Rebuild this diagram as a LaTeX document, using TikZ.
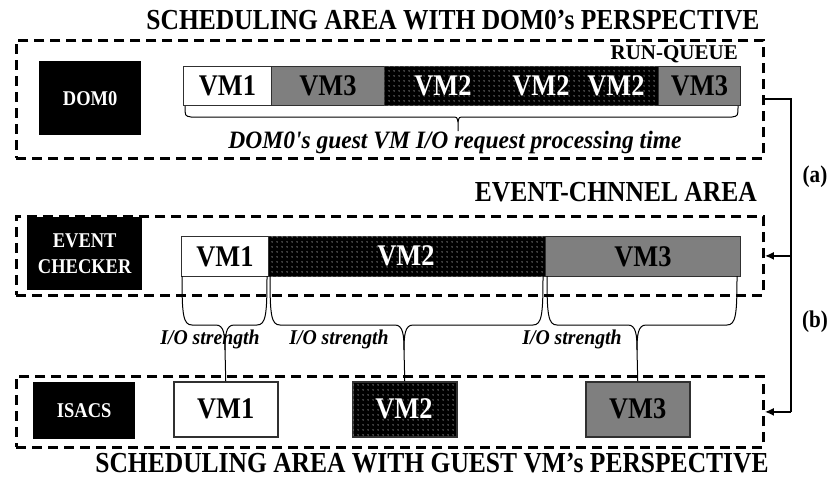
\documentclass[tikz,border=0pt]{standalone}
\usepackage{fontspec}
\setmainfont{Liberation Serif}[FakeStretch=0.88]
\newfontfamily\itserif{Liberation Serif}[FakeStretch=0.94]
\newfontfamily\wideserif{Liberation Serif}
\usetikzlibrary{patterns.meta,arrows.meta}
\definecolor{vmgray}{HTML}{7F7F7F}
\definecolor{edgec}{HTML}{303030}
\tikzdeclarepattern{name=sparsedots, type=uncolored,
  bounding box={(0pt,0pt) and (4.5pt,4.5pt)}, tile size={(4.5pt,4.5pt)},
  code={\fill (2.25pt,2.25pt) circle (0.65pt);}}
\newcommand\mytbrace[4]{%
  \draw[br] (#1,276) .. controls (#1,314) and ({#1+1},325) .. ({#1+10},325) -- ({#3-9},325)
     .. controls ({#3-1},325) and (#3,335) .. (#3,350) -- (#4.north);
  \draw[br] (#2,276) .. controls (#2,314) and ({#2-1},325) .. ({#2-10},325) -- ({#3+9},325)
     .. controls ({#3+1},325) and (#3,335) .. (#3,350);
}
\begin{document}
\begin{tikzpicture}[x=1pt,y=-1pt,
  title/.style={font=\bfseries\fontsize{29}{29}\selectfont, inner sep=0pt},
  sublabel/.style={font=\wideserif\bfseries\fontsize{21}{21}\selectfont, inner sep=0pt},
  dbox/.style={draw, line width=2.8pt, dash pattern=on 10pt off 6pt, anchor=north west, inner sep=0pt},
  blk/.style={fill=black, text=white, font=\bfseries\fontsize{21}{26}\selectfont, anchor=north west, inner sep=0pt, align=center},
  seg/.style={draw=edgec, line width=1pt, anchor=north west, inner sep=0pt, font=\bfseries\fontsize{30}{30}\selectfont},
  wseg/.style={seg, fill=white},
  gseg/.style={seg, fill=vmgray},
  dseg/.style={seg, fill=black, postaction={pattern={sparsedots}, pattern color=white}},
  vmtxt/.style={font=\bfseries\fontsize{30}{30}\selectfont, inner sep=0pt},
  ital/.style={font=\itserif\bfseries\itshape\fontsize{25}{25}\selectfont, inner sep=0pt},
  iostr/.style={font=\itserif\bfseries\itshape\fontsize{21}{21}\selectfont, inner sep=0pt, anchor=base},
  br/.style={line width=1pt, black},
  conn/.style={line width=2pt, black},
  lab/.style={font=\bfseries\fontsize{24}{24}\selectfont, inner sep=0pt}
]
\useasboundingbox (0,0) rectangle (830,477);

% titles
\node[title, anchor=base] (t1) at (453,29) {SCHEDULING AREA WITH DOM0’s PERSPECTIVE};
\node[title, anchor=base east] (t2) at (757,201) {EVENT-CHNNEL AREA};
\node[title, anchor=base] (t3) at (432,472) {SCHEDULING AREA WITH GUEST VM’s PERSPECTIVE};

% dashed areas
\node[dbox, minimum width=747pt, minimum height=118pt] (B1) at (15,39) {};
\node[dbox, minimum width=747pt, minimum height=79pt] (B2) at (15,215) {};
\node[dbox, minimum width=747pt, minimum height=71pt] (B3) at (15,375) {};

% black boxes
\node[blk, minimum width=102pt, minimum height=74pt] (dom) at (39,61) {DOM0};
\node[blk, minimum width=115pt, minimum height=73pt] (ev) at (27,217) {EVENT\\CHECKER};
\node[blk, minimum width=102pt, minimum height=57pt] (isacs) at (33,382) {ISACS};

% run-queue
\node[sublabel, anchor=base east] (rq) at (738,59) {RUN-QUEUE};
\node[wseg, minimum width=88pt, minimum height=39pt] (q1) at (183,66) {VM1};
\node[gseg, minimum width=113pt, minimum height=39pt] (q2) at (271,66) {VM3};
\node[dseg, minimum width=274pt, minimum height=39pt] (q3) at (384,66) {};
\node[gseg, minimum width=82pt, minimum height=39pt] (q4) at (658,66) {VM3};
\node[vmtxt, text=white] (v21) at (443,86) {VM2};
\node[vmtxt, text=white] (v22) at (541,86) {VM2};
\node[vmtxt, text=white] (v23) at (616,86) {VM2};

% run-queue brace
\draw[br] (q1.south west) ++(2,0) .. controls +(0,10) .. +(6,11) -- (452,117)
   .. controls (457,117) .. (458,122) -- (458,131);
\draw[br] (q4.south east) ++(-3,0) .. controls +(0,10) .. +(-6,11) -- (464,117)
   .. controls (459,117) .. (458,122);
\node[ital, anchor=base] (ptime) at (455,148) {DOM0's guest VM I/O request processing time};

% event channel bar
\node[wseg, minimum width=87pt, minimum height=40pt] (e1) at (181,236) {VM1};
\node[dseg, minimum width=277pt, minimum height=40pt] (e2) at (268,236) {};
\node[vmtxt, text=white] (e2t) at (406,256) {VM2};
\node[gseg, minimum width=195pt, minimum height=40pt] (e3) at (545,236) {VM3};

% ISACS row
\node[wseg, line width=1.5pt, minimum width=104pt, minimum height=55pt] (i1) at (173,381) {VM1};
\node[dseg, line width=1.5pt, minimum width=104pt, minimum height=55pt] (i2) at (352,381) {};
\node[vmtxt, text=white] (i2t) at (404,408.5) {VM2};
\node[gseg, line width=1.5pt, minimum width=104pt, minimum height=55pt] (i3) at (585,381) {VM3};

% I/O strength braces
\mytbrace{182}{267}{225}{i1}
\mytbrace{270}{543}{404}{i2}
\mytbrace{547}{737}{637}{i3}
\node[iostr] (s1) at (210,344) {I/O strength};
\node[iostr] (s2) at (339,344) {I/O strength};
\node[iostr] (s3) at (572,344) {I/O strength};

% right connectors
\coordinate (rx) at (791,0);
\draw[conn] (B1.east) -- (B1.east -| rx) -- (B3.east -| rx);
\draw[conn, -{Latex[length=9pt,width=8pt]}] (B2.east -| rx) -- (B2.east);
\draw[conn, -{Latex[length=9pt,width=8pt]}] (B3.east -| rx) -- (B3.east);
\node[lab] (la) at (815,177) {(a)};
\node[lab] (lb) at (815,322) {(b)};
\end{tikzpicture}
\end{document}
